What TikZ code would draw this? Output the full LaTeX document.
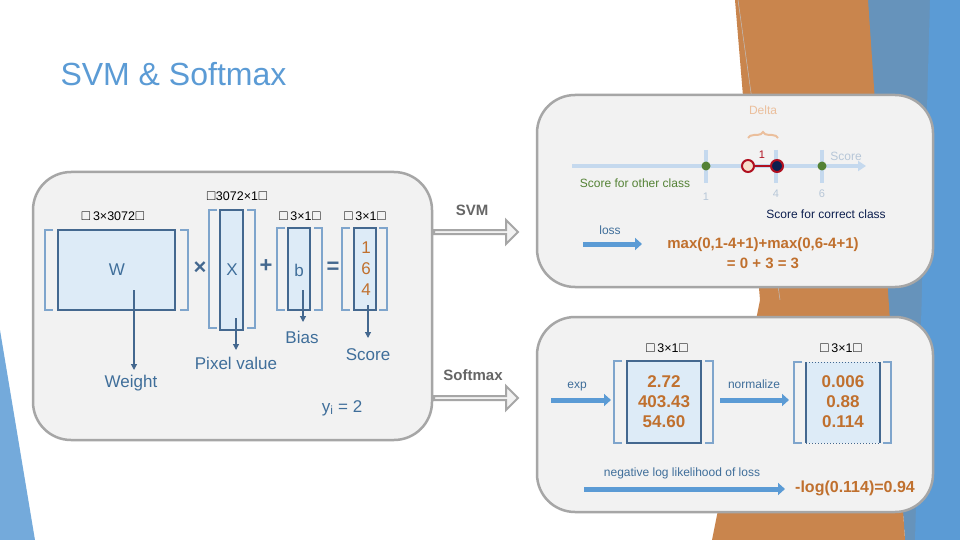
\documentclass[tikz,border=0pt]{standalone}
\usepackage{fontspec}
\setmainfont{Liberation Sans}
\usepackage{amssymb}
\usetikzlibrary{arrows.meta,decorations.pathreplacing,shapes.arrows}
\definecolor{pgray}{HTML}{F2F2F2}
\definecolor{bgray}{HTML}{A6A6A6}
\definecolor{dblue}{HTML}{44688F}
\definecolor{lblue}{HTML}{DDEBF7}
\definecolor{mblue}{HTML}{5B9BD5}
\definecolor{brk}{HTML}{7FA5CC}
\definecolor{txtb}{HTML}{3F6E9A}
\definecolor{orng}{HTML}{C0702E}
\definecolor{axis}{HTML}{C5D9EE}
\definecolor{grn}{HTML}{548235}
\definecolor{navy}{HTML}{0D1F4F}
\definecolor{dred}{HTML}{B01020}
\definecolor{peach}{HTML}{F0C8A8}
\tikzset{
 panel/.style={draw=bgray,line width=2.5pt,fill=pgray,rounded corners=38pt},
 mat/.style={draw=dblue,line width=2.2pt,fill=lblue},
 brkt/.style={draw=brk,line width=1.3pt},
 lbl/.style={font=\fontsize{12.5}{12.5}\selectfont},
 tb/.style={text=txtb,font=\fontsize{17}{17}\selectfont},
 num/.style={text=orng,font=\bfseries\fontsize{17}{20}\selectfont,align=center},
 darr/.style={draw=dblue,line width=1.2pt,-{Triangle[length=6pt,width=6pt]}},
 barr/.style={draw=mblue,line width=5pt,-{Triangle[length=7pt,width=12pt]}},
 hol/.style={single arrow,draw=bgray,fill=pgray,line width=2pt,minimum height=84pt,minimum width=24pt,single arrow head extend=5pt,inner sep=0pt},
}
\newcommand{\bx}{$\square$}
\newcommand{\brak}[4]{\draw[brkt] (#1+8,#2)--(#1,#2)--(#1,#4)--(#1+8,#4); \draw[brkt] (#3-8,#2)--(#3,#2)--(#3,#4)--(#3-8,#4);}
\begin{document}
\begin{tikzpicture}[x=1pt,y=-1pt]
\useasboundingbox (0,0) rectangle (960,540);
\fill[white] (0,0) rectangle (960,540);
% decorations
\fill[mblue!85] (0,330)--(35,540)--(0,540)--cycle;
\fill[mblue!70!gray] (865,0)--(960,0)--(960,540)--(905,540)--cycle;
\fill[orng!85] (735,0)--(868,0)--(905,540)--(712,540)--(760,300)--cycle;
\fill[mblue] (930,0)--(960,0)--(960,540)--(915,540)--cycle;
\draw[black!25,line width=0.5pt] (738,0) -- (780,300);
\node[anchor=west,text=mblue,font=\fontsize{32}{32}\selectfont] (title) at (57,74) {SVM \& Softmax};
% panels
\draw[panel] (33,172) rectangle (432,440);
\draw[panel] (537,95) rectangle (933,287);
\draw[panel] (537,317) rectangle (933,512);
% left
\node[lbl] (lw) at (113,216) {\bx\,3×3072\bx};
\brak{45}{230}{188}{310}
\draw[mat] (58,230) rectangle (175,310);
\node[tb] (W) at (117,270) {W};
\node[text=dblue,font=\bfseries\fontsize{22}{22}\selectfont] (times) at (200,268) {×};
\node[lbl] (lx) at (237,196) {\bx3072×1\bx};
\brak{209}{210}{255}{328}
\draw[mat] (220,210) rectangle (243,330);
\node[tb] (X) at (232,270) {X};
\node[text=dblue,font=\bfseries\fontsize{22}{22}\selectfont] (plus) at (266,266) {+};
\node[lbl] (lb) at (300,216) {\bx\,3×1\bx};
\brak{277}{228}{322}{310}
\draw[mat] (288,228) rectangle (310,310);
\node[tb] (b) at (299,270) {b};
\node[text=dblue,font=\bfseries\fontsize{22}{22}\selectfont] (eq) at (333,268) {=};
\node[lbl] (ls) at (365,216) {\bx\,3×1\bx};
\brak{342}{228}{387}{310}
\draw[mat] (354,228) rectangle (376,310);
\node[num,font=\fontsize{17}{21}\selectfont] (sc) at (366,269) {1\\6\\4};
\coordinate (w1) at (134,290); \node[tb] (wt) at (131,383) {Weight};
\draw[darr] (w1) -- (134,370);
\coordinate (x1) at (236,318); \node[tb] (pv) at (236,363) {Pixel value};
\draw[darr] (x1) -- (236,350);
\coordinate (b1) at (303,290); \node[tb] (bias) at (302,337) {Bias};
\draw[darr] (b1) -- (303,322);
\coordinate (s1) at (368,305); \node[tb] (score) at (368,355) {Score};
\draw[darr] (s1) -- (368,338);
\node[tb] (yi) at (342,408) {y\textsubscript{i} = 2};
% middle
\node[text=black!60,font=\bfseries\fontsize{15}{15}\selectfont] (svm) at (472,210) {SVM};
\node[hol] (a1) at (475,232) {};
\node[text=black!60,font=\bfseries\fontsize{15}{15}\selectfont] (smx) at (473,375) {Softmax};
\node[hol] (a2) at (475,398) {};
% top right
\draw[axis,line width=4pt,-{Triangle[length=8pt,width=10pt]}] (572,166) -- (866,166);
\foreach \x/\t/\yy in {706/1/197,776/4/194,822/6/194}{
  \draw[axis,line width=3.5pt] (\x,150) -- (\x,183);
  \node[text=axis!80!gray,font=\fontsize{11}{11}\selectfont] at (\x,\yy) {\t};}
\node[circle,fill=grn,inner sep=0,minimum size=9pt] (g1) at (706,166) {};
\node[circle,fill=grn,inner sep=0,minimum size=9pt] (g2) at (822,166) {};
\node[circle,draw=dred,fill=peach!60,line width=2pt,inner sep=0,minimum size=12pt] (r1) at (748,166) {};
\node[circle,draw=dred,fill=navy,line width=2pt,inner sep=0,minimum size=12pt] (r2) at (777,166) {};
\draw[dred,line width=2pt] (r1) -- (r2);
\node[text=dred,font=\fontsize{11}{11}\selectfont] (one) at (762,155) {1};
\node[text=axis!80!gray,font=\fontsize{12}{12}\selectfont] (scl) at (846,156) {Score};
\node[text=peach!90!orng,font=\fontsize{12}{12}\selectfont] (delta) at (763,110) {Delta};
\draw[peach!90!orng,line width=2pt,decorate,decoration={brace,amplitude=6pt}] (748,138) -- (778,138);
\node[text=grn,font=\fontsize{12}{12}\selectfont] (oc) at (635,183) {Score for other class};
\node[text=navy,font=\fontsize{12}{12}\selectfont] (cc) at (826,214) {Score for correct class};
\node[text=txtb,font=\fontsize{12}{12}\selectfont] (loss) at (610,230) {loss};
\coordinate (l1) at (583,244); \coordinate (l2) at (642,244);
\draw[barr] (l1) -- (l2);
\node[num,font=\bfseries\fontsize{15}{20}\selectfont] (form) at (763,253) {max(0,1-4+1)+max(0,6-4+1)\\= 0 + 3 = 3};
% bottom right
\node[lbl] (le) at (667,348) {\bx\,3×1\bx};
\brak{614}{361}{713}{443}
\draw[mat] (627,361) rectangle (701,443);
\node[num] (ev) at (664,402) {2.72\\403.43\\54.60};
\node[text=txtb,font=\fontsize{12}{12}\selectfont] (exp) at (577,387) {exp};
\coordinate (e1) at (551,400); \coordinate (e2) at (611,400);
\draw[barr] (e1) -- (e2);
\node[text=txtb,font=\fontsize{12}{12}\selectfont] (norm) at (754,384) {normalize};
\coordinate (n1) at (720,400); \coordinate (n2) at (789,400);
\draw[barr] (n1) -- (n2);
\node[lbl] (lp) at (841,348) {\bx\,3×1\bx};
\brak{794}{362}{891}{443}
\fill[lblue] (806,362) rectangle (880,443);
\draw[dblue,line width=1pt,dotted] (806,362) -- (880,362) (806,443) -- (880,443);
\draw[dblue,line width=2.2pt] (806,362) -- (806,443) (880,362) -- (880,443);
\node[num] (pv2) at (843,402) {0.006\\0.88\\0.114};
\node[text=txtb,font=\fontsize{12}{12}\selectfont] (nll) at (682,473) {negative log likelihood of loss};
\coordinate (q1) at (584,489); \coordinate (q2) at (785,489);
\draw[barr] (q1) -- (q2);
\node[text=orng,font=\bfseries\fontsize{16}{16}\selectfont] (res) at (855,488) {-log(0.114)=0.94};
\end{tikzpicture}
\end{document}
